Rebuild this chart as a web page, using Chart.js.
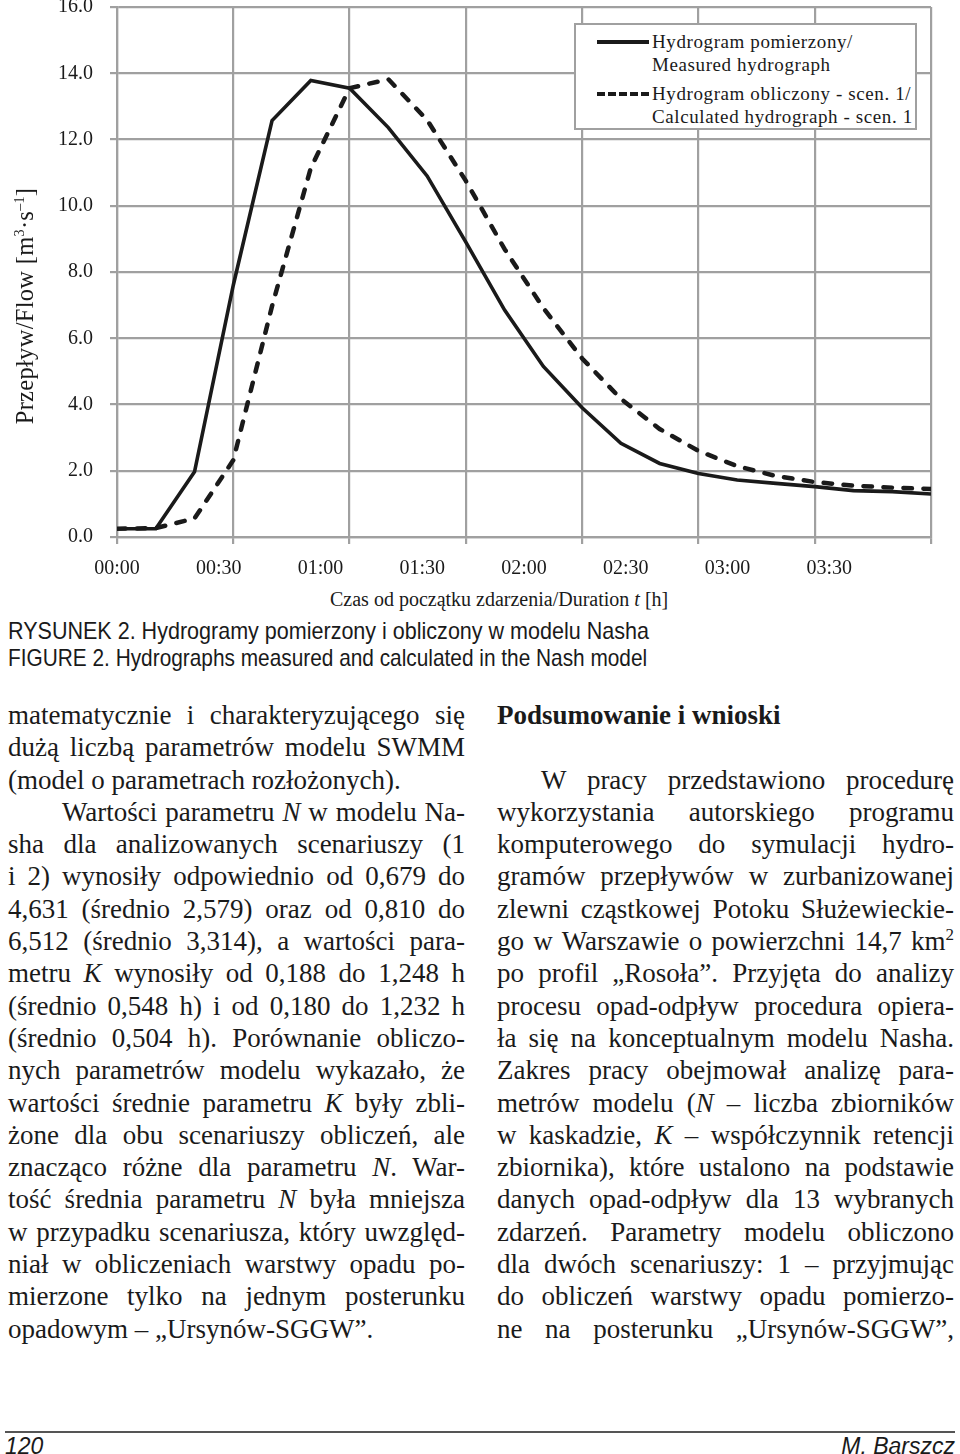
<!DOCTYPE html>
<html>
<head>
<meta charset="utf-8">
<script src="https://cdn.jsdelivr.net/npm/chart.js@4"></script>
<style>
  html, body { margin: 0; padding: 0; background: #fff; }
  body { width: 960px; height: 1454px; position: relative; overflow: hidden;
         font-family: "Liberation Serif", "Times New Roman", serif; color: #1a1a1a; }
  #chartBox { position: absolute; left: 0; top: 0; width: 960px; height: 580px; }
  .ytitle { position: absolute; left: -125px; top: 293px; width: 300px; height: 26px;
            line-height: 26px; font-size: 24.5px; letter-spacing: 0.3px; text-align: center;
            transform: rotate(-90deg); white-space: nowrap; }
  .ytitle sup { font-size: 14px; line-height: 0; }
  .legend { position: absolute; left: 574px; top: 23px; width: 339px; height: 103px;
            border: 2px solid #a0a0a0; background: #fff; font-size: 19px; letter-spacing: 0.6px; }
  .legend .t { position: absolute; left: 76px; line-height: 22px; white-space: nowrap; }
  .legend .s { position: absolute; left: 21px; width: 52px; height: 0; }
  .xtitle { position: absolute; left: 330px; top: 588px; font-size: 20px; white-space: nowrap; }
  .cap { position: absolute; left: 8px; font-family: "Liberation Sans Narrow", "Liberation Sans", sans-serif;
         font-size: 24px; white-space: nowrap; transform-origin: left center; }
  .col { position: absolute; top: 699px; width: 457px; font-size: 27px; line-height: 32.3px; }
  .col div { text-align: justify; text-align-last: justify; height: 32.3px; }
  .col div.l { text-align-last: left; }
  .ind { padding-left: 54px; }
  .ind2 { padding-left: 44px; }
  .foot { position: absolute; top: 1431px; left: 5px; width: 950px; border-top: 2px solid #555; }
  .pg { position: absolute; top: 1433px; font-family: "Liberation Sans Narrow", "Liberation Sans", sans-serif;
        font-style: italic; font-size: 23px; }
</style>
</head>
<body>
<div id="chartBox"><canvas id="hydro"></canvas></div>
<div class="ytitle">Przepływ/Flow [m<sup>3</sup>·s<sup>–1</sup>]</div>
<div class="legend">
  <div class="s" style="top:15px;border-top:4px solid #1a1a1a;"></div>
  <div class="t" style="top:6px;">Hydrogram pomierzony/</div>
  <div class="t" style="top:29px;">Measured hydrograph</div>
  <div class="s" style="top:67px;border-top:4.5px dashed #1a1a1a;"></div>
  <div class="t" style="top:58px;">Hydrogram obliczony - scen. 1/</div>
  <div class="t" style="top:81px;">Calculated hydrograph - scen. 1</div>
</div>
<div class="xtitle">Czas od początku zdarzenia/Duration <i>t</i> [h]</div>
<div class="cap" style="top:617px;transform:scaleX(0.897);">RYSUNEK 2. Hydrogramy pomierzony i obliczony w modelu Nasha</div>
<div class="cap" style="top:644px;transform:scaleX(0.868);">FIGURE 2. Hydrographs measured and calculated in the Nash model</div>

<div class="col" style="left:8px;">
  <div>matematycznie i charakteryzującego się</div>
  <div>dużą liczbą parametrów modelu SWMM</div>
  <div class="l">(model o parametrach rozłożonych).</div>
  <div class="ind">Wartości parametru <i>N</i> w modelu Na-</div>
  <div>sha dla analizowanych scenariuszy (1</div>
  <div>i 2) wynosiły odpowiednio od 0,679 do</div>
  <div>4,631 (średnio 2,579) oraz od 0,810 do</div>
  <div>6,512 (średnio 3,314), a wartości para-</div>
  <div>metru <i>K</i> wynosiły od 0,188 do 1,248 h</div>
  <div>(średnio 0,548 h) i od 0,180 do 1,232 h</div>
  <div>(średnio 0,504 h). Porównanie obliczo-</div>
  <div>nych parametrów modelu wykazało, że</div>
  <div>wartości średnie parametru <i>K</i> były zbli-</div>
  <div>żone dla obu scenariuszy obliczeń, ale</div>
  <div>znacząco różne dla parametru <i>N</i>. War-</div>
  <div>tość średnia parametru <i>N</i> była mniejsza</div>
  <div>w przypadku scenariusza, który uwzględ-</div>
  <div>niał w obliczeniach warstwy opadu po-</div>
  <div>mierzone tylko na jednym posterunku</div>
  <div class="l">opadowym – „Ursynów-SGGW”.</div>
</div>

<div class="col" style="left:497px;">
  <div class="l" style="font-weight:bold;">Podsumowanie i wnioski</div>
  <div class="l"></div>
  <div class="ind2">W pracy przedstawiono procedurę</div>
  <div>wykorzystania autorskiego programu</div>
  <div>komputerowego do symulacji hydro-</div>
  <div>gramów przepływów w zurbanizowanej</div>
  <div>zlewni cząstkowej Potoku Służewieckie-</div>
  <div>go w Warszawie o powierzchni 14,7 km<sup style="font-size:17px;line-height:0;">2</sup></div>
  <div>po profil „Rosoła”. Przyjęta do analizy</div>
  <div>procesu opad-odpływ procedura opiera-</div>
  <div>ła się na konceptualnym modelu Nasha.</div>
  <div>Zakres pracy obejmował analizę para-</div>
  <div>metrów modelu (<i>N</i> – liczba zbiorników</div>
  <div>w kaskadzie, <i>K</i> – współczynnik retencji</div>
  <div>zbiornika), które ustalono na podstawie</div>
  <div>danych opad-odpływ dla 13 wybranych</div>
  <div>zdarzeń. Parametry modelu obliczono</div>
  <div>dla dwóch scenariuszy: 1 – przyjmując</div>
  <div>do obliczeń warstwy opadu pomierzo-</div>
  <div>ne na posterunku „Ursynów-SGGW”,</div>
</div>

<div class="foot"></div>
<div class="pg" style="left:5px;">120</div>
<div class="pg" style="right:5px;">M. Barszcz</div>

<script>
// --- Chart data (flow in m3/s, equally spaced time steps) ---
const timeLabels = ['00:00', '00:30', '01:00', '01:30', '02:00', '02:30', '03:00', '03:30'];
const measured   = [0.25, 0.25, 1.97, 7.6, 12.57, 13.78, 13.55, 12.36, 10.9, 8.9, 6.85,
                    5.15, 3.9, 2.83, 2.22, 1.92, 1.72, 1.62, 1.52, 1.40, 1.37, 1.30];
const calculated = [0.25, 0.27, 0.56, 2.32, 6.97, 11.14, 13.55, 13.82, 12.59, 10.75, 8.69,
                    6.91, 5.39, 4.17, 3.26, 2.60, 2.14, 1.84, 1.66, 1.55, 1.49, 1.45];

const lastStep = measured.length - 1;
const gridColor = '#a0a0a0';
const tickFont = { family: 'Liberation Serif', size: 20 };

const toPoints = arr => arr.map((v, i) => ({ x: i, y: v }));

// axis paddings for overhanging labels are dropped so the plot box sits where the original one does
const noPad = s => { s.paddingTop = 0; s.paddingBottom = 0; s.paddingLeft = 0; s.paddingRight = 0; };

new Chart(document.getElementById('hydro'), {
  type: 'line',
  data: {
    datasets: [
      {
        label: 'Hydrogram obliczony - scen. 1',
        data: toPoints(calculated),
        borderColor: '#1a1a1a',
        borderWidth: 4.5,
        borderDash: [8.5, 11.5],
        borderCapStyle: 'round',
        pointRadius: 0,
        tension: 0,
        order: 0
      },
      {
        label: 'Hydrogram pomierzony',
        data: toPoints(measured),
        borderColor: '#1a1a1a',
        borderWidth: 3.6,
        pointRadius: 0,
        tension: 0,
        order: 1
      }
    ]
  },
  options: {
    responsive: true,
    maintainAspectRatio: false,
    animation: false,
    layout: { padding: { top: 7, right: 29, left: 0, bottom: 0 } },
    plugins: { legend: { display: false }, tooltip: { enabled: false } },
    scales: {
      x: {
        type: 'linear', position: 'bottom', weight: 0,
        min: 0, max: lastStep,
        ticks: { stepSize: 3, display: false },
        grid: { color: gridColor, lineWidth: 2.2, tickLength: 7 },
        border: { color: gridColor, width: 2.2 },
        afterFit: s => { noPad(s); s.height = 7; }
      },
      xl: {
        type: 'linear', position: 'bottom', weight: 1,
        min: 0, max: lastStep,
        afterBuildTicks: s => {
          s.ticks = timeLabels.map((_, i) => ({ value: i * lastStep / timeLabels.length }));
        },
        ticks: {
          autoSkip: false, maxRotation: 0, padding: 13,
          color: '#1a1a1a', font: tickFont,
          callback: (v, i) => timeLabels[i]
        },
        grid: { display: false, drawTicks: false },
        border: { display: false },
        afterFit: s => { noPad(s); s.height = 36; }
      },
      y: {
        min: 0, max: 16,
        ticks: { stepSize: 2, padding: 17, color: '#1a1a1a', font: tickFont,
                 callback: v => v.toFixed(1) },
        grid: { color: gridColor, lineWidth: 2.2, tickLength: 7 },
        border: { color: gridColor, width: 2.2 },
        afterFit: s => { noPad(s); s.width = 117; }
      }
    }
  }
});
</script>
</body>
</html>
